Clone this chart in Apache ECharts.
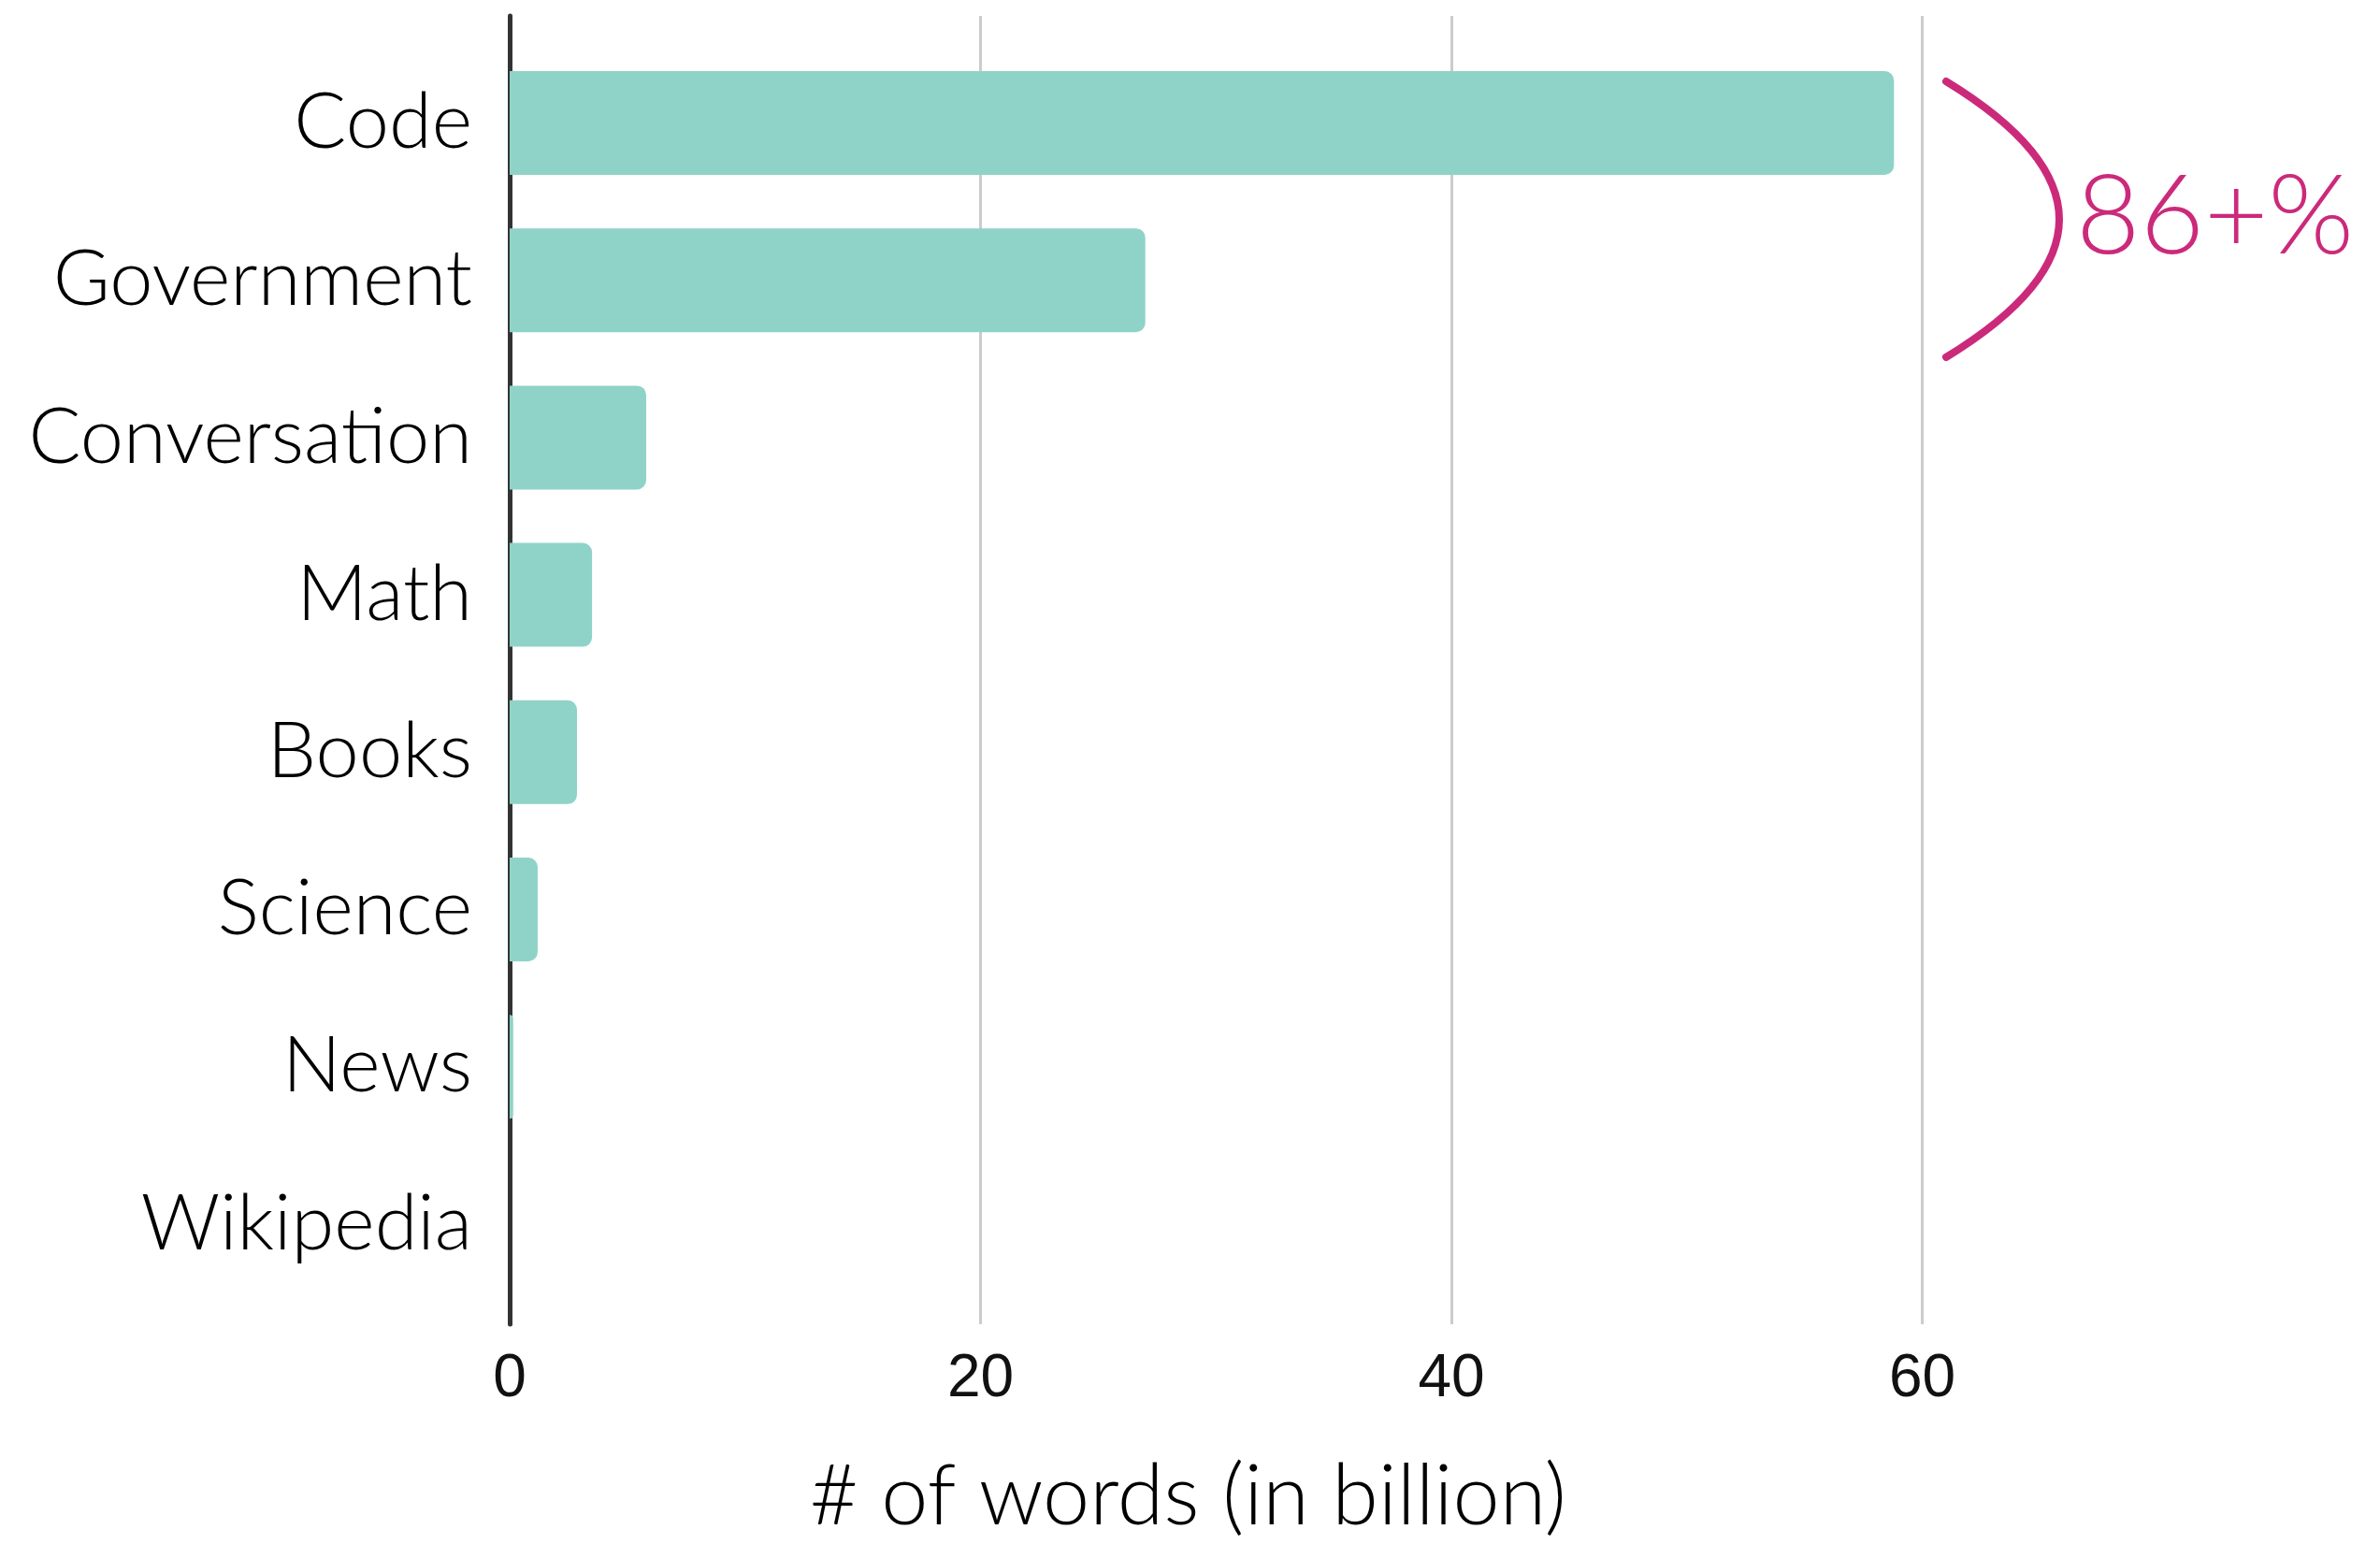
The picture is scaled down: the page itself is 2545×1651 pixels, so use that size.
<!DOCTYPE html>
<html>
<head>
<meta charset="utf-8">
<script src="https://cdn.jsdelivr.net/npm/echarts@6/dist/echarts.min.js"></script>
<style>
  html, body { margin: 0; padding: 0; background: #ffffff; }
  #chart { width: 2545px; height: 1651px; }
</style>
</head>
<body>
<div id="chart"></div>
<script>
const categories = ['Code', 'Government', 'Conversation', 'Math', 'Books', 'Science', 'News', 'Wikipedia'];
const wordsBillion = [58.8, 27.0, 5.8, 3.5, 2.86, 1.19, 0.15, 0];
const xTicks = [0, 20, 40, 60];
const axisTitle = '# of words (in billion)';
const annotationText = '86+%';

const labelFont = 'Lato, "Open Sans", "Noto Sans", sans-serif';
const xMin = xTicks[0];
const xMax = xTicks[xTicks.length - 1];
const xInterval = xTicks[1] - xTicks[0];

const chart = echarts.init(document.getElementById('chart'), null, { renderer: 'canvas' });

const option = {
  backgroundColor: '#ffffff',
  animation: false,
  grid: [
    { left: 545, right: 489.5, top: 17, bottom: 228 },
    { left: 545, right: 489.5, top: 47.4, bottom: 258 }
  ],
  xAxis: [
    {
      gridIndex: 0,
      type: 'value',
      min: xMin,
      max: xMax,
      interval: xInterval,
      axisLine: { show: false },
      axisTick: { show: false },
      splitLine: { show: true, lineStyle: { color: '#cccccc', width: 3 } },
      axisLabel: {
        color: '#111111',
        fontFamily: '"Liberation Sans", Arial, sans-serif',
        fontSize: 64,
        lineHeight: 64,
        margin: 27
      },
      name: axisTitle,
      nameLocation: 'middle',
      nameGap: 140,
      nameTextStyle: {
        color: '#000000',
        fontFamily: labelFont,
        fontWeight: 300,
        fontSize: 90,
        padding: [0, 60, 0, 0]
      }
    },
    {
      gridIndex: 1,
      type: 'value',
      min: xMin,
      max: xMax,
      interval: xInterval,
      show: false
    }
  ],
  yAxis: [
    {
      gridIndex: 0,
      type: 'value',
      axisLine: { show: true, lineStyle: { color: '#333333', width: 5 } },
      axisTick: { show: false },
      axisLabel: { show: false },
      splitLine: { show: false }
    },
    {
      gridIndex: 1,
      type: 'category',
      inverse: true,
      data: categories,
      axisLine: { show: false },
      axisTick: { show: false },
      splitLine: { show: false },
      axisLabel: {
        color: '#000000',
        fontFamily: labelFont,
        fontWeight: 300,
        fontSize: 83,
        margin: 40,
        padding: [0, 0, 14, 0]
      }
    }
  ],
  series: [
    {
      type: 'bar',
      xAxisIndex: 1,
      yAxisIndex: 1,
      data: wordsBillion,
      barCategoryGap: '34%',
      itemStyle: { color: '#8fd3c8', borderRadius: [0, 10, 10, 0] },
      z: 5
    }
  ],
  graphic: [
    {
      type: 'bezierCurve',
      shape: { x1: 2081, y1: 87, x2: 2081, y2: 382, cpx1: 2323, cpy1: 234.5 },
      style: { stroke: '#cb2a7b', lineWidth: 8, fill: null, lineCap: 'round' },
      z: 10
    },
    {
      type: 'text',
      left: 2220,
      top: 174,
      style: {
        text: annotationText,
        fill: '#cb2a7b',
        font: '300 118px ' + labelFont
      },
      z: 10
    }
  ]
};

chart.setOption(option);
</script>
</body>
</html>
